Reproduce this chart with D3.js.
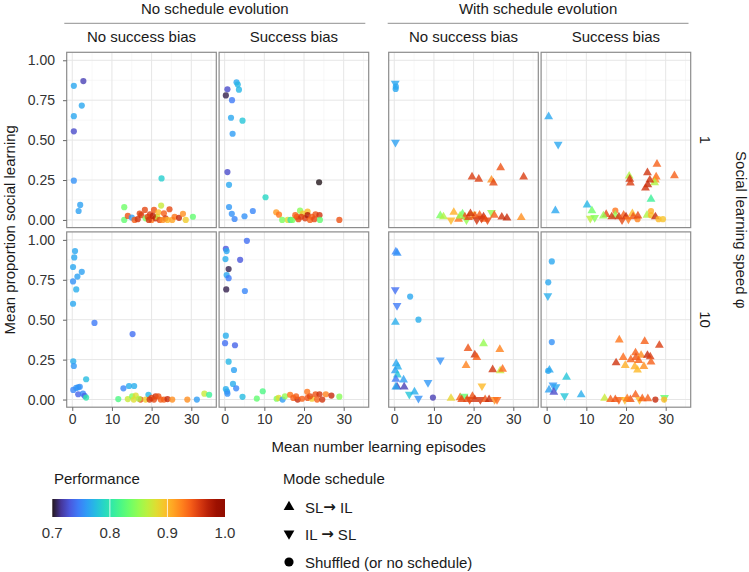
<!DOCTYPE html>
<html>
<head>
<meta charset="utf-8">
<script src="https://cdn.jsdelivr.net/npm/d3@7"></script>
<style>
	body { margin: 0; background: #fff; }
	svg { font-family: 'Liberation Sans', Arial, sans-serif; }
</style>
</head>
<body>
<svg id="chart" width="749" height="572"></svg>
<script>
// NOTE facet labels
var groupLabels = ['No schedule evolution', 'With schedule evolution'];
var biasLabels = ['No success bias', 'Success bias', 'No success bias', 'Success bias'];
var speedLabels = ['1', '10'];
var xTicks = [0, 10, 20, 30];
var yTicks = [0, 0.25, 0.5, 0.75, 1];
var perfTicks = [0.7, 0.8, 0.9, 1.0];
var shapeKeys = ['u', 'd', 'c'];
var shapeLabels = [['SL', '\u2192', ' IL'], ['IL ', '\u2192', ' SL'], ['Shuffled (or no schedule)', '', '']];

// NOTE points: [schedule, mean episodes, mean proportion SL, performance]
// speed 1
var noSchedNoBias1 = [
	['c',0.4,0.84,0.765],['c',2.8,0.87,0.72],['c',2.4,0.716,0.765],['c',0.4,0.65,0.765],['c',0.4,0.555,0.725],
	['c',0.4,0.246,0.755],['c',2.0,0.094,0.762],['c',1.6,0.056,0.762],['c',22.5,0.26,0.785],
	['c',13.1,0.08,0.835],['c',13.1,0.0,0.83],['c',14.0,0.025,0.945],['c',15.0,0.015,0.76],['c',15.7,0.0,0.94],
	['c',17.0,0.04,0.95],['c',17.4,0.03,0.955],['c',18.3,0.063,0.95],['c',18.5,0.01,0.84],['c',19.0,0.02,0.95],
	['c',19.6,0.035,0.955],['c',20.0,0.0,0.93],['c',20.6,0.063,0.945],['c',21.0,0.01,0.965],['c',21.4,0.02,0.87],
	['c',21.7,0.048,0.9],['c',22.4,0.09,0.87],['c',22.0,0.0,0.95],['c',23.1,0.042,0.94],['c',23.5,0.01,0.96],
	['c',24.0,0.0,0.9],['c',24.5,0.067,0.95],['c',25.2,0.0,0.91],['c',25.8,0.02,0.93],['c',26.9,0.013,0.965],
	['c',27.9,0.038,0.92],['c',28.6,0.0,0.89],['c',30.4,0.02,0.83],['c',16.5,0.005,0.96],['c',19.3,0.0,0.96],
	['c',22.8,0.0,0.92],['c',20.3,0.025,0.97]
];
var noSchedBias1 = [
	['c',3.0,0.862,0.765],['c',3.3,0.848,0.772],['c',3.6,0.816,0.772],['c',0.7,0.818,0.725],['c',0.3,0.78,0.705],
	['c',1.85,0.75,0.745],['c',1.6,0.64,0.765],['c',4.5,0.622,0.78],['c',2.0,0.54,0.76],['c',0.7,0.3,0.725],
	['c',1.1,0.22,0.765],['c',10.3,0.142,0.79],['c',23.8,0.236,0.70],['c',1.1,0.081,0.758],['c',1.8,0.038,0.755],
	['c',2.5,0.006,0.75],['c',5.0,0.023,0.755],['c',7.1,0.056,0.75],
	['c',13.0,0.048,0.915],['c',13.7,0.033,0.93],['c',14.5,0.0,0.84],['c',15.9,0.0,0.88],['c',16.6,0.0,0.80],
	['c',17.1,0.0,0.84],['c',18.2,0.02,0.945],['c',18.6,0.005,0.95],['c',19.0,0.058,0.845],['c',19.7,0.04,0.89],
	['c',20.3,0.01,0.955],['c',20.9,0.052,0.9],['c',20.9,0.03,0.975],['c',21.5,0.0,0.94],['c',22.0,0.02,0.94],
	['c',22.6,0.005,0.95],['c',22.9,0.035,0.945],['c',23.9,0.03,0.96],['c',24.0,0.0,0.83],['c',28.9,0.0,0.945],
	['c',19.3,0.02,0.955],['c',17.8,0.03,0.94]
];
var schedNoBias1 = [
	['d',0.25,0.856,0.765],['c',0.4,0.835,0.765],['c',0.35,0.82,0.765],['d',0.3,0.486,0.762],
	['u',26.8,0.328,0.945],['u',19.6,0.27,0.955],['u',21.3,0.255,0.955],['u',24.5,0.25,0.92],['u',25.0,0.232,0.95],
	['u',32.6,0.27,0.955],
	['u',11.6,0.027,0.84],['u',12.4,0.02,0.86],['u',15.0,0.048,0.905],['d',14.3,0.0,0.9],['u',17.2,0.038,0.835],
	['u',17.8,0.02,0.945],['d',18.2,0.0,0.85],['u',18.7,0.015,0.95],['d',19.7,0.035,0.895],['u',20.3,0.025,0.945],
	['u',21.5,0.03,0.94],['u',22.5,0.02,0.965],['u',22.8,0.005,0.94],['d',23.5,0.0,0.95],['d',24.5,0.046,0.85],
	['u',25.2,0.03,0.94],['u',27.1,0.018,0.96],['u',28.4,0.012,0.965],['u',32.0,0.015,0.92],['u',16.2,0.005,0.93],
	['d',20.8,0.0,0.96],['u',19.2,0.04,0.96],['d',22.0,0.01,0.955],['u',16.6,0.025,0.85]
];
var schedBias1 = [
	['u',0.5,0.647,0.765],['d',2.9,0.474,0.765],['u',2.2,0.058,0.765],['u',10.2,0.094,0.772],['u',11.4,0.058,0.835],
	['d',11.0,0.01,0.865],['d',12.1,0.015,0.845],
	['u',20.8,0.275,0.86],['u',20.95,0.255,0.96],['u',21.1,0.232,0.955],['u',25.4,0.296,0.96],['u',27.8,0.349,0.94],
	['u',27.6,0.27,0.935],['u',27.4,0.25,0.92],['u',27.2,0.234,0.86],['u',26.0,0.25,0.96],['u',25.5,0.22,0.965],
	['u',24.9,0.2,0.96],['u',32.2,0.277,0.94],['u',26.3,0.13,0.81],
	['u',15.0,0.035,0.95],['c',17.3,0.058,0.93],['u',17.3,0.03,0.85],['u',18.2,0.02,0.96],['u',19.4,0.03,0.94],
	['u',20.0,0.02,0.965],['u',21.6,0.04,0.9],['u',21.8,0.02,0.945],['c',22.9,0.005,0.925],['u',25.3,0.03,0.86],
	['c',26.3,0.056,0.905],['c',26.3,0.03,0.9],['u',27.4,0.02,0.965],['c',28.2,0.005,0.9],['c',29.3,0.005,0.895],
	['u',16.4,0.02,0.96],['d',19.0,0.0,0.95],['u',23.0,0.025,0.95],['u',14.3,0.025,0.85],['d',20.6,0.005,0.93]
];
// speed 10
var noSchedNoBias10 = [
	['c',0.7,0.93,0.765],['c',0.5,0.89,0.765],['c',0.2,0.83,0.765],['c',2.4,0.80,0.762],['c',1.3,0.77,0.762],
	['c',0.2,0.74,0.755],['c',1.0,0.69,0.768],['c',0.2,0.60,0.765],['c',5.6,0.48,0.745],['c',15.2,0.41,0.74],
	['c',0.25,0.24,0.768],['c',0.4,0.21,0.758],['c',3.5,0.127,0.775],['c',0.25,0.06,0.75],['c',1.0,0.073,0.755],
	['c',1.5,0.077,0.758],['c',1.9,0.08,0.755],['c',1.5,0.033,0.735],['c',2.7,0.037,0.75],['c',3.1,0.023,0.735],
	['c',3.5,0.012,0.8],['c',12.9,0.07,0.75],['c',14.3,0.085,0.768],['c',15.6,0.085,0.768],['c',19.2,0.03,0.772],
	['c',11.6,0.003,0.82],['c',14.0,0.003,0.87],['c',15.1,0.02,0.84],['c',16.0,0.025,0.88],['c',15.5,0.0,0.88],
	['c',17.2,0.0,0.95],['c',18.5,0.0,0.89],['c',20.0,0.01,0.95],['c',21.0,0.02,0.96],['c',21.7,0.02,0.945],
	['c',20.6,0.0,0.95],['c',22.3,0.0,0.94],['c',23.1,0.0,0.94],['c',24.0,0.003,0.965],['c',25.2,0.0,0.92],
	['c',29.0,0.0,0.92],['c',31.4,0.0,0.76],['c',33.3,0.037,0.87],['c',34.5,0.03,0.81],['c',19.5,0.0,0.96],
	['c',16.8,0.005,0.86]
];
var noSchedBias10 = [
	['c',5.6,0.994,0.74],['c',0.3,0.944,0.73],['c',0.5,0.93,0.765],['c',0.2,0.88,0.768],['c',3.9,0.875,0.73],
	['c',1.0,0.817,0.705],['c',0.5,0.78,0.765],['c',1.0,0.76,0.745],['c',0.4,0.69,0.705],['c',5.1,0.68,0.75],
	['c',0.3,0.40,0.768],['c',0.1,0.353,0.74],['c',2.6,0.34,0.735],['c',1.0,0.237,0.772],['c',2.35,0.185,0.762],
	['c',2.1,0.098,0.768],['c',2.9,0.07,0.75],['c',0.3,0.066,0.768],['c',0.6,0.05,0.765],['c',0.7,0.037,0.755],
	['c',4.5,0.017,0.775],['c',8.1,0.006,0.83],['c',9.6,0.052,0.82],
	['c',13.1,0.005,0.84],['c',13.6,0.01,0.88],['c',14.6,0.0,0.76],['c',15.2,0.02,0.85],['c',16.5,0.03,0.93],
	['c',17.3,0.01,0.94],['c',18.4,0.0,0.965],['c',19.5,0.005,0.94],['c',20.8,0.048,0.93],['c',20.9,0.01,0.945],
	['c',22.0,0.005,0.89],['c',22.9,0.033,0.945],['c',23.9,0.033,0.96],['c',23.3,0.0,0.94],['c',24.6,0.0,0.96],
	['c',25.5,0.033,0.925],['c',26.9,0.025,0.965],['c',28.9,0.018,0.845],['c',18.0,0.02,0.94],['c',21.5,0.02,0.95]
];
var schedNoBias10 = [
	['u',0.4,0.925,0.75],['u',0.75,0.917,0.755],['d',0.25,0.688,0.74],['d',0.7,0.588,0.745],['c',4.0,0.645,0.765],
	['c',6.1,0.50,0.768],['u',0.3,0.484,0.768],['d',11.6,0.247,0.755],
	['u',0.5,0.225,0.765],['u',0.9,0.204,0.768],['u',0.25,0.18,0.762],['u',0.8,0.154,0.78],['u',0.4,0.127,0.745],
	['u',2.35,0.123,0.762],['u',0.7,0.08,0.72],['u',2.5,0.079,0.72],['u',0.4,0.079,0.765],['d',8.5,0.106,0.758],
	['d',3.8,0.033,0.78],['u',5.1,0.048,0.768],['d',6.1,0.008,0.755],['c',9.75,0.012,0.72],
	['u',18.6,0.32,0.945],['u',22.5,0.35,0.85],['u',26.6,0.314,0.925],['u',20.3,0.28,0.96],['u',20.8,0.264,0.94],
	['u',18.1,0.214,0.925],['u',24.8,0.187,0.96],['u',26.7,0.18,0.87],['u',27.3,0.19,0.935],['d',22.1,0.085,0.9],
	['u',14.3,0.008,0.885],['u',16.6,0.012,0.94],['d',17.6,0.02,0.83],['u',18.4,0.0,0.95],['u',19.7,0.02,0.945],
	['u',20.3,0.0,0.96],['d',21.7,0.0,0.96],['u',22.9,0.0,0.945],['u',23.9,0.0,0.965],['d',25.3,0.0,0.92],
	['d',25.9,0.0,0.935],['u',17.0,0.0,0.95],['d',19.0,0.0,0.95]
];
var schedBias10 = [
	['c',1.3,0.865,0.765],['c',0.4,0.734,0.765],['d',0.3,0.649,0.768],['c',1.3,0.36,0.755],['u',0.7,0.185,0.765],
	['c',0.4,0.18,0.765],['u',5.0,0.14,0.78],['d',1.6,0.09,0.758],['d',2.35,0.079,0.765],['u',0.6,0.06,0.762],
	['u',1.8,0.046,0.725],['d',4.5,0.023,0.78],['u',8.7,0.03,0.768],
	['u',18.3,0.374,0.93],['u',24.7,0.364,0.94],['u',28.4,0.34,0.955],['u',17.5,0.23,0.96],['u',19.3,0.264,0.935],
	['u',19.8,0.214,0.905],['u',21.2,0.25,0.94],['u',22.4,0.293,0.94],['u',22.5,0.264,0.945],['u',22.2,0.206,0.905],
	['u',22.9,0.185,0.9],['u',23.8,0.277,0.92],['u',24.5,0.208,0.92],['u',25.4,0.277,0.965],['u',26.1,0.268,0.955],
	['u',26.3,0.235,0.94],['u',23.2,0.245,0.94],
	['u',14.6,0.008,0.87],['u',16.1,0.0,0.94],['u',17.3,0.0,0.945],['d',18.2,0.0,0.94],['d',19.7,0.0,0.9],
	['u',21.1,0.0,0.945],['u',22.4,0.03,0.94],['d',23.4,0.0,0.9],['u',24.1,0.005,0.94],['u',25.5,0.005,0.94],
	['c',27.4,0.0,0.965],['d',29.7,0.012,0.83],['c',29.6,0.0,0.9],['u',20.3,0.005,0.93]
];

var panelData = [
	[noSchedNoBias1, noSchedBias1, schedNoBias1, schedBias1],
	[noSchedNoBias10, noSchedBias10, schedNoBias10, schedBias10]
];

// NOTE layout
var svg = d3.select('#chart');
var panelX = [66.7, 219.1, 388.7, 541.1];
var panelY = [52.3, 231.9];
var panelW = 149.6;
var panelH = 175.3;

var x = d3.scaleLinear().domain([-1.4, 36.3]).range([0, panelW]);
var y = d3.scaleLinear().domain([-0.048, 1.05]).range([panelH, 0]);
var color = d3.scaleSequential(d3.interpolateTurbo).domain([0.7, 1.0]);

var symbolSize = { u: 34, d: 34, c: 30 };
function shapePath(s, size) {
	var type = s === 'c' ? d3.symbolCircle : d3.symbolTriangle;
	return d3.symbol().type(type).size(size)();
}

// panels
for (var r = 0; r < 2; r++) {
	for (var c = 0; c < 4; c++) {
		var g = svg
			.append('g')
			.attr('transform', 'translate(' + panelX[c] + ',' + panelY[r] + ')');

		g.append('rect')
			.attr('width', panelW)
			.attr('height', panelH)
			.attr('fill', '#fff');

		// minor grid
		var xMinor = [5, 15, 25, 35];
		var yMinor = [0.125, 0.375, 0.625, 0.875];
		g.selectAll('.xminor')
			.data(xMinor)
			.enter()
			.append('line')
			.attr('x1', (d) => x(d))
			.attr('x2', (d) => x(d))
			.attr('y1', 0)
			.attr('y2', panelH)
			.attr('stroke', '#f2f2f2')
			.attr('stroke-width', 0.6);
		g.selectAll('.yminor')
			.data(yMinor)
			.enter()
			.append('line')
			.attr('y1', (d) => y(d))
			.attr('y2', (d) => y(d))
			.attr('x1', 0)
			.attr('x2', panelW)
			.attr('stroke', '#f2f2f2')
			.attr('stroke-width', 0.6);

		// major grid
		g.selectAll('.xmajor')
			.data(xTicks)
			.enter()
			.append('line')
			.attr('x1', (d) => x(d))
			.attr('x2', (d) => x(d))
			.attr('y1', 0)
			.attr('y2', panelH)
			.attr('stroke', '#e6e6e6')
			.attr('stroke-width', 1);
		g.selectAll('.ymajor')
			.data(yTicks)
			.enter()
			.append('line')
			.attr('y1', (d) => y(d))
			.attr('y2', (d) => y(d))
			.attr('x1', 0)
			.attr('x2', panelW)
			.attr('stroke', '#e6e6e6')
			.attr('stroke-width', 1);

		// points
		g.selectAll('.pt')
			.data(panelData[r][c])
			.enter()
			.append('path')
			.attr('d', (d) => shapePath(d[0], symbolSize[d[0]]))
			.attr('transform', function (d) {
				var t = 'translate(' + x(d[1]) + ',' + y(d[2]) + ')';
				return d[0] === 'd' ? t + ' rotate(180)' : t;
			})
			.attr('fill', (d) => color(d[3]))
			.attr('fill-opacity', 0.8);

		g.append('rect')
			.attr('width', panelW)
			.attr('height', panelH)
			.attr('fill', 'none')
			.attr('stroke', '#8c8c8c')
			.attr('stroke-width', 1.2);

		// y axis on first column
		if (c === 0) {
			var ya = g.append('g').call(d3.axisLeft(y).tickValues(yTicks).tickFormat(d3.format('.2f')).tickSize(3.7).tickPadding(8));
			ya.select('.domain').remove();
			ya.selectAll('line').attr('stroke', '#666');
			ya.selectAll('text').attr('font-size', 14).attr('fill', '#333').attr('font-family', null);
		}
		// x axis on bottom row
		if (r === 1) {
			var xa = g.append('g').attr('transform', 'translate(0,' + panelH + ')').call(d3.axisBottom(x).tickValues(xTicks).tickSize(3.7).tickPadding(3));
			xa.select('.domain').remove();
			xa.selectAll('line').attr('stroke', '#666');
			xa.selectAll('text').attr('font-size', 14).attr('fill', '#333').attr('font-family', null);
		}
	}
}

// NOTE strips
svg.selectAll('.bias')
	.data(biasLabels)
	.enter()
	.append('text')
	.attr('x', (d, i) => panelX[i] + panelW / 2)
	.attr('y', 36)
	.attr('text-anchor', 'middle')
	.attr('dominant-baseline', 'central')
	.attr('font-size', 15)
	.attr('fill', '#1a1a1a')
	.text((d) => d);

var groupSpan = [[64.3, 365.3], [387.7, 688.5]];
groupLabels.forEach(function (lab, i) {
	svg.append('line')
		.attr('x1', groupSpan[i][0])
		.attr('x2', groupSpan[i][1])
		.attr('y1', 23.3)
		.attr('y2', 23.3)
		.attr('stroke', '#a6a6a6')
		.attr('stroke-width', 1.2);
	svg.append('text')
		.attr('x', (groupSpan[i][0] + groupSpan[i][1]) / 2)
		.attr('y', 8)
		.attr('text-anchor', 'middle')
		.attr('dominant-baseline', 'central')
		.attr('font-size', 15)
		.attr('fill', '#1a1a1a')
		.text(lab);
});

speedLabels.forEach(function (lab, i) {
	svg.append('text')
		.attr('transform', 'translate(705,' + (panelY[i] + panelH / 2) + ') rotate(90)')
		.attr('text-anchor', 'middle')
		.attr('dominant-baseline', 'central')
		.attr('font-size', 15)
		.attr('fill', '#1a1a1a')
		.text(lab);
});

// NOTE axis titles
var midY = (panelY[0] + panelY[1] + panelH) / 2;
svg.append('text')
	.attr('transform', 'translate(9.5,' + midY + ') rotate(-90)')
	.attr('text-anchor', 'middle')
	.attr('dominant-baseline', 'central')
	.attr('font-size', 15)
	.attr('fill', '#1a1a1a')
	.text('Mean proportion social learning');

svg.append('text')
	.attr('transform', 'translate(741.5,' + midY + ') rotate(90)')
	.attr('text-anchor', 'middle')
	.attr('dominant-baseline', 'central')
	.attr('font-size', 15)
	.attr('fill', '#1a1a1a')
	.text('Social learning speed \u03c6');

svg.append('text')
	.attr('x', (panelX[0] + panelX[3] + panelW) / 2)
	.attr('y', 446)
	.attr('text-anchor', 'middle')
	.attr('dominant-baseline', 'central')
	.attr('font-size', 15)
	.attr('fill', '#1a1a1a')
	.text('Mean number learning episodes');

// NOTE colour legend
svg.append('text')
	.attr('x', 54)
	.attr('y', 478)
	.attr('dominant-baseline', 'central')
	.attr('font-size', 15)
	.attr('fill', '#1a1a1a')
	.text('Performance');

var barX = d3.scaleLinear().domain([0.7, 1.0]).range([52.3, 225]);
var grad = svg.append('defs')
	.append('linearGradient')
	.attr('id', 'perf-grad');
d3.range(0, 1.0001, 0.05).forEach(function (t) {
	grad.append('stop')
		.attr('offset', t)
		.attr('stop-color', color(0.7 + 0.3 * t));
});
svg.append('rect')
	.attr('x', barX(0.7))
	.attr('y', 499)
	.attr('width', barX(1.0) - barX(0.7))
	.attr('height', 18)
	.attr('fill', 'url(#perf-grad)');
svg.selectAll('.ptick')
	.data(perfTicks.slice(1, 3))
	.enter()
	.append('line')
	.attr('x1', (d) => barX(d))
	.attr('x2', (d) => barX(d))
	.attr('y1', 499)
	.attr('y2', 517)
	.attr('stroke', '#fff')
	.attr('stroke-opacity', 0.8);
svg.selectAll('.plab')
	.data(perfTicks)
	.enter()
	.append('text')
	.attr('x', (d) => barX(d))
	.attr('y', 532)
	.attr('text-anchor', 'middle')
	.attr('dominant-baseline', 'central')
	.attr('font-size', 15)
	.attr('fill', '#333')
	.text((d) => d3.format('.1f')(d));

// NOTE shape legend
svg.append('text')
	.attr('x', 283)
	.attr('y', 478)
	.attr('dominant-baseline', 'central')
	.attr('font-size', 15)
	.attr('fill', '#1a1a1a')
	.text('Mode schedule');

var keyY = [507, 533.5, 562];
shapeKeys.forEach(function (s, i) {
	svg.append('path')
		.attr('d', shapePath(s, s === 'c' ? 66 : 50))
		.attr('transform', 'translate(289,' + keyY[i] + ')' + (s === 'd' ? ' rotate(180)' : ''))
		.attr('fill', '#000');
	var t = svg.append('text')
		.attr('x', 305)
		.attr('y', keyY[i])
		.attr('dominant-baseline', 'central')
		.attr('font-size', 15)
		.attr('fill', '#1a1a1a');
	t.append('tspan').text(shapeLabels[i][0]);
	t.append('tspan').attr('font-family', 'DejaVu Sans').attr('font-weight', 'bold').text(shapeLabels[i][1]);
	t.append('tspan').text(shapeLabels[i][2]);
});
</script>
</body>
</html>
